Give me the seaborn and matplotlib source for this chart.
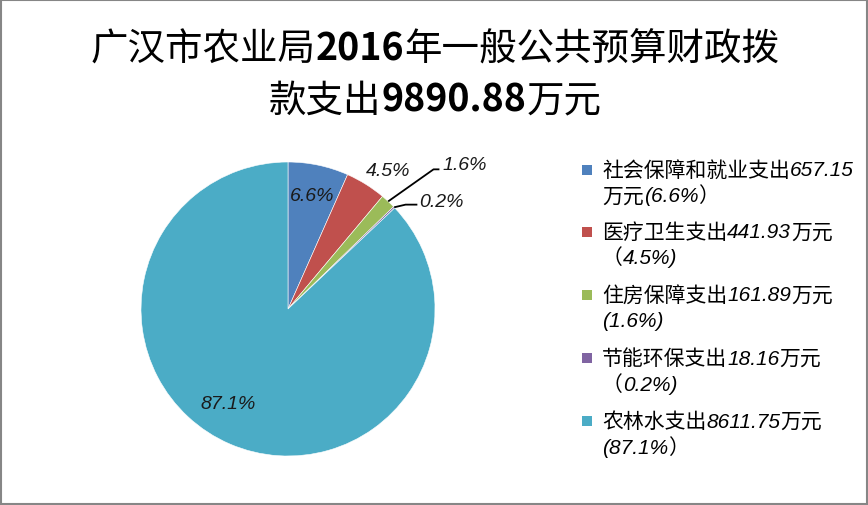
import re
import numpy as np
import matplotlib
matplotlib.use("Agg")
import matplotlib.pyplot as plt
import seaborn as sns
from matplotlib.patches import Rectangle
from matplotlib.transforms import IdentityTransform

sns.set_theme(style="white")
plt.rcParams['font.family'] = ['Noto Sans CJK SC', 'DejaVu Sans']

# --- data ---
categories = ['社会保障和就业支出', '医疗卫生支出', '住房保障支出', '节能环保支出', '农林水支出']
amounts = [657.15, 441.93, 161.89, 18.16, 8611.75]
pct_labels = ['6.6%', '4.5%', '1.6%', '0.2%', '87.1%']
legend_lines = [
    ['社会保障和就业支出657.15', '万元(6.6%）'],
    ['医疗卫生支出441.93万元', '（4.5%)'],
    ['住房保障支出161.89万元', '(1.6%)'],
    ['节能环保支出18.16万元', '（0.2%)'],
    ['农林水支出8611.75万元', '(87.1%）'],
]
title_lines = ['广汉市农业局2016年一般公共预算财政拨', '款支出9890.88万元']
colors = ['#4F81BD', '#C0504D', '#9BBB59', '#8064A2', '#4BACC6']

W, H = 868, 506
fig = plt.figure(figsize=(W / 100, H / 100), dpi=100)
fig.patch.set_facecolor('white')
fig.add_artist(Rectangle((1, 1), W - 2, H - 2, transform=IdentityTransform(),
                         fill=False, edgecolor='#868686', linewidth=1.5))

# pie axes: centre (288, 310) px, radius 147 px
cx, cy, R = 288, 310, 147
ax = fig.add_axes([(cx - R) / W, (H - cy - R) / H, 2 * R / W, 2 * R / H])
wedges, _ = ax.pie(amounts, colors=colors, startangle=90, counterclock=False,
                   wedgeprops=dict(edgecolor='white', linewidth=0.4))
ax.set_xlim(-1, 1)
ax.set_ylim(-1, 1)
ax.set_aspect('equal')
ax.axis('off')

pct_font = dict(family='Liberation Sans', style='italic', fontsize=14, color='#1a1a1a')

# label placement: inside / outside / leader line
place = ['in', 'out', 'lead', 'lead', 'in']
dist = [0.79, 1.16, None, None, 0.76]
ang_shift = [0, -4, 0, 0, -9]
lead_text = {2: (1.05, 0.98), 3: (0.89, 0.73)}
lead_elbow = {2: ((0.99, 0.95), (1.03, 0.95)), 3: ((0.80, 0.71), (0.88, 0.71))}

for i, (w, lab) in enumerate(zip(wedges, pct_labels)):
    a = np.deg2rad((w.theta1 + w.theta2) / 2 + ang_shift[i])
    if place[i] == 'lead':
        x0, y0 = np.cos(a), np.sin(a)
        (ex, ey), (fx, fy) = lead_elbow[i]
        ax.plot([x0, ex, fx], [y0, ey, fy], color='black', lw=1.3, clip_on=False,
                solid_capstyle='butt')
        tx, ty = lead_text[i]
        ax.text(tx, ty, lab, ha='left', va='center', **pct_font)
    else:
        r = dist[i]
        ax.text(r * np.cos(a), r * np.sin(a), lab, ha='center', va='center', **pct_font)

renderer = fig.canvas.get_renderer()


def rich_line(x_px, base_px, text, size, ha='left', num_style=None):
    # split into runs of digits/punctuation and the rest, lay them side by side
    parts = [p for p in re.split(r'([0-9.%()]+)', text) if p]
    arts = []
    for p in parts:
        kw = dict(fontsize=size, color='black')
        if re.fullmatch(r'[0-9.%()]+', p):
            kw.update(num_style)
        t = fig.text(0, 0, p, ha='left', va='baseline', transform=IdentityTransform(), **kw)
        arts.append(t)
    widths = [t.get_window_extent(renderer).width for t in arts]
    x0 = x_px - sum(widths) / 2 if ha == 'center' else x_px
    for t, wd in zip(arts, widths):
        t.set_position((x0, H - base_px))
        x0 += wd


# title
title_base = [61, 112]
for line, b in zip(title_lines, title_base):
    rich_line(435, b, line, 27, ha='center', num_style=dict(weight='bold'))

# legend (squares aligned with the first text line)
leg_base = [176.5, 238.5, 301.5, 365, 428]
num_it = dict(family='Liberation Sans', style='italic')
for col, lines, b in zip(colors, legend_lines, leg_base):
    fig.add_artist(Rectangle((582, H - b + 1), 10, 10, transform=IdentityTransform(),
                             facecolor=col, edgecolor='none'))
    rich_line(602, b, lines[0], 15, num_style=num_it)
    rich_line(602, b + 26, lines[1], 15, num_style=num_it)

fig.savefig('out.png', dpi=100)
